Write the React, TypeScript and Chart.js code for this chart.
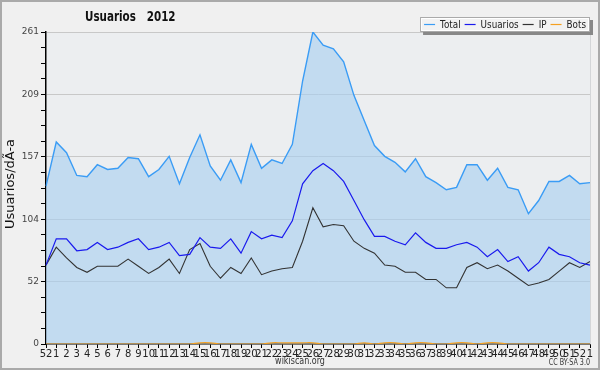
import React, { useEffect, useRef } from "react";
import { Chart, registerables } from "chart.js";

Chart.register(...registerables);

const weeks = ["52","1","2","3","4","5","6","7","8","9","10","11","12","13","14","15","16","17","18","19","20","21","22","23","24","25","26","27","28","29","30","31","32","33","34","35","36","37","38","39","40","41","42","43","44","45","46","47","48","49","50","51","52","1"];

const total = [132,169,160,141,140,150,146,147,156,155,140,146,157,134,156,175,149,137,154,135,167,147,154,151,167,220,261,250,247,236,208,187,166,157,152,144,155,140,135,129,131,150,150,137,147,131,129,109,120,136,136,141,134,135];

const usuarios = [66,88,88,78,79,85,79,81,85,88,79,81,85,74,75,89,81,80,88,76,94,88,91,89,103,134,145,151,145,136,120,104,90,90,86,83,93,85,80,80,83,85,81,73,79,69,73,61,68,81,75,73,68,66];

const ip = [66,81,72,64,60,65,65,65,71,65,59,64,71,59,79,84,65,55,64,59,72,58,61,63,64,86,114,98,100,99,86,80,76,66,65,60,60,54,54,47,47,64,68,63,66,61,55,49,51,54,61,68,64,69];

const bots = [0,0,0,0,0,0,0,0,0,0,0,0,0,0,0,1,1,0,0,0,0,0,1,1,1,1,1,0,0,0,0,1,0,1,1,0,1,1,0,0,1,1,0,1,1,0,0,0,0,0,0,0,0,0];

const yMax = 261;
const yDivisions = 20;
const yLabelEvery = 4;

const seriesNames = ["Total", "Usuarios", "IP", "Bots"];
const seriesColors = ["#3a9cf5", "#1a1aee", "#333333", "#f5a020"];

const FONT = "'DejaVu Sans', sans-serif";
const SQUEEZE = 0.8;

function squeezedText(ctx: any, text: string, x: number, y: number, align: string, sq: number = SQUEEZE) {
  const w = ctx.measureText(text).width * sq;
  let left = x;
  if (align === "center") left = x - w / 2;
  else if (align === "right") left = x - w;
  ctx.save();
  ctx.textAlign = "left";
  ctx.translate(left, y);
  ctx.scale(sq, 1);
  ctx.fillText(text, 0, 0);
  ctx.restore();
  return w;
}

const decorPlugin = {
  id: "decor",
  beforeDraw(chart: any) {
    const { ctx, width, height, chartArea } = chart;
    ctx.save();
    ctx.fillStyle = "#f0f0f0";
    ctx.fillRect(0, 0, width, height);
    ctx.fillStyle = "#eceef0";
    ctx.fillRect(chartArea.left, chartArea.top, chartArea.right - chartArea.left, chartArea.bottom - chartArea.top);
    ctx.restore();
  },
  afterDraw(chart: any) {
    const { ctx, width, height, chartArea } = chart;
    ctx.save();
    ctx.strokeStyle = "#d4d6d8";
    ctx.lineWidth = 1;
    ctx.beginPath();
    ctx.moveTo(chartArea.right + 0.5, chartArea.top - 8);
    ctx.lineTo(chartArea.right + 0.5, chartArea.bottom);
    ctx.stroke();
    ctx.strokeStyle = "#aaaaaa";
    ctx.lineWidth = 2;
    ctx.strokeRect(1, 1, width - 2, height - 2);
    // title
    ctx.fillStyle = "#111";
    ctx.font = "bold 14px " + FONT;
    ctx.textBaseline = "middle";
    squeezedText(ctx, "Usuarios   2012", 85, 17, "left", 0.74);
    // y axis title
    ctx.save();
    ctx.translate(11, 184);
    ctx.rotate(-Math.PI / 2);
    ctx.font = "13px " + FONT;
    ctx.fillStyle = "#111";
    ctx.textBaseline = "middle";
    ctx.textAlign = "center";
    ctx.fillText("Usuarios/dÃ-a", 0, 0);
    ctx.restore();
    // footer
    ctx.fillStyle = "#333";
    ctx.font = "10px " + FONT;
    squeezedText(ctx, "wikiscan.org", 300, 361, "center");
    ctx.font = "8px " + FONT;
    squeezedText(ctx, "CC BY-SA 3.0", 590, 363, "right");
    // legend
    ctx.font = "11px " + FONT;
    const widths = seriesNames.map((n) => ctx.measureText(n).width * SQUEEZE);
    let widthSum = 4;
    widths.forEach((w) => (widthSum += 16 + w + 4));
    const boxRight = 590;
    const boxLeft = boxRight - widthSum;
    const boxTop = 17;
    const boxH = 15;
    ctx.fillStyle = "#888";
    ctx.fillRect(boxLeft + 3, boxTop + 3, boxRight - boxLeft, boxH);
    ctx.fillStyle = "#f2f2f2";
    ctx.fillRect(boxLeft, boxTop, boxRight - boxLeft, boxH);
    ctx.strokeStyle = "#aaa";
    ctx.lineWidth = 1;
    ctx.strokeRect(boxLeft + 0.5, boxTop + 0.5, boxRight - boxLeft - 1, boxH - 1);
    ctx.strokeStyle = "#fff";
    ctx.strokeRect(boxLeft + 1.5, boxTop + 1.5, boxRight - boxLeft - 3, boxH - 3);
    let x = boxLeft + 4;
    const ly = boxTop + 7.5;
    seriesNames.forEach((n, i) => {
      ctx.strokeStyle = seriesColors[i];
      ctx.lineWidth = 1.2;
      ctx.beginPath();
      ctx.moveTo(x, ly);
      ctx.lineTo(x + 11, ly);
      ctx.stroke();
      x += 16;
      ctx.fillStyle = "#222";
      squeezedText(ctx, n, x, ly + 0.5, "left");
      x += widths[i] + 4;
    });
    ctx.restore();
  },
};

export default function App() {
  const ref = useRef<HTMLCanvasElement>(null);
  useEffect(() => {
    document.body.style.margin = "0";
    const canvas = ref.current!;
    const chart = new Chart(canvas, {
      type: "line",
      data: {
        labels: weeks,
        datasets: [
          {
            label: seriesNames[0],
            data: total,
            borderColor: seriesColors[0],
            backgroundColor: "rgba(168,207,240,0.62)",
            borderWidth: 1.4,
            fill: "origin",
            pointRadius: 0,
            tension: 0,
          },
          {
            label: seriesNames[1],
            data: usuarios,
            borderColor: seriesColors[1],
            borderWidth: 1.2,
            fill: false,
            pointRadius: 0,
            tension: 0,
          },
          {
            label: seriesNames[2],
            data: ip,
            borderColor: seriesColors[2],
            borderWidth: 1.1,
            fill: false,
            pointRadius: 0,
            tension: 0,
          },
          {
            label: seriesNames[3],
            data: bots,
            borderColor: seriesColors[3],
            borderWidth: 1.2,
            fill: false,
            pointRadius: 0,
            tension: 0.4,
          },
        ],
      },
      options: {
        animation: false,
        responsive: false,
        events: [],
        layout: { padding: { top: 32, right: 10, bottom: 0, left: 0 } },
        plugins: {
          legend: { display: false },
          title: { display: false },
          tooltip: { enabled: false },
          filler: { drawTime: "beforeDatasetsDraw" },
        } as any,
        scales: {
          x: {
            type: "category",
            offset: false,
            grid: {
              display: true,
              drawOnChartArea: false,
              drawTicks: true,
              tickLength: 4,
              tickColor: "#000",
            },
            border: { display: true, color: "#000", width: 1.5 },
            ticks: {
              autoSkip: false,
              maxRotation: 0,
              minRotation: 0,
              padding: 0,
              color: "#222",
              font: { family: FONT, size: 10 },
            },
            afterFit: (s: any) => {
              s.height = 26;
            },
          },
          y: {
            type: "linear",
            min: 0,
            max: yMax,
            afterBuildTicks: (s: any) => {
              const t = [];
              for (let i = 0; i <= yDivisions; i++) t.push({ value: (yMax * i) / yDivisions });
              s.ticks = t;
            },
            grid: {
              drawTicks: true,
              tickLength: 5,
              tickColor: "#000",
              color: (c: any) =>
                c.index > 0 && c.index % yLabelEvery === 0 ? "#c8c8c8" : "rgba(0,0,0,0)",
              lineWidth: 1,
            },
            border: { display: true, color: "#000", width: 1.5 },
            ticks: {
              padding: 2,
              color: "#444",
              font: { family: FONT, size: 9 },
              callback: (v: any, i: number) => (i % yLabelEvery === 0 ? String(Math.round(Number(v))) : ""),
            },
            afterFit: (s: any) => {
              s.width = 46;
            },
          },
        },
      },
      plugins: [decorPlugin],
    });
    return () => chart.destroy();
  }, []);
  return (
    <div style={{ width: 600, height: 370 }}>
      <canvas ref={ref} width={600} height={370} style={{ display: "block", width: 600, height: 370 }} />
    </div>
  );
}
